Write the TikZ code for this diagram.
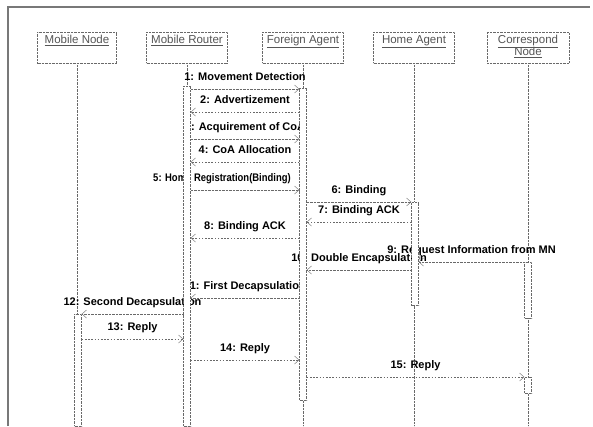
\documentclass[tikz,border=0pt]{standalone}
\usepackage{fontspec}
\setmainfont{Liberation Sans}
\usepackage{xcolor}
\usetikzlibrary{
  arrows.meta,
  positioning,
  backgrounds
}
\definecolor{xline}{RGB}{105,105,105}
\definecolor{xhead}{RGB}{85,85,85}
\definecolor{xframe}{RGB}{120,120,120}

\begin{document}
\begin{tikzpicture}[x=1pt, y=-1pt,
  head/.style={draw=xline, densely dotted, fill=white, anchor=north,
               minimum width=#1, minimum height=31pt, inner sep=0pt},
  headtxt/.style={anchor=north, yshift=-2pt, inner sep=1pt, text=xhead,
                  font=\fontsize{11.5}{13}\selectfont, align=center},
  life/.style={draw=xline, densely dotted},
  bar/.style={draw=xline, densely dotted, fill=white, anchor=north,
              minimum width=7pt, inner sep=0pt},
  call/.style={draw=xline, densely dotted, -{Straight Barb[length=4.5pt, width=8pt]}},
  reply/.style={draw=xline, dash pattern=on 1.6pt off 1.6pt, -{Straight Barb[length=4.5pt, width=8pt]}},
  msg/.style={above, yshift=4.5pt, inner sep=1pt, text height=8.5pt, text depth=2.5pt,
              font=\fontsize{11}{12}\selectfont\bfseries}
]
  \useasboundingbox (0,0) rectangle (593,426);
  \draw[xframe, line width=1.3pt] (8,426) -- (8,7) -- (590,7);

  \node[head=79pt,  label={[headtxt]north:\underline{Mobile Node}}]    (mn) at (77,32)  {};
  \node[head=81pt,  label={[headtxt]north:\underline{Mobile Router}}]  (mr) at (187,32) {};
  \node[head=81pt,  label={[headtxt]north:\underline{Foreign Agent}}]  (fa) at (303,32) {};
  \node[head=81pt,  label={[headtxt]north:\underline{Home Agent}}]     (ha) at (414,32) {};
  \node[head=82pt,  label={[headtxt]north:{\underline{Correspond}\\[-1pt]\underline{Node}}}] (cn) at (528,32) {};

  \coordinate (bottom) at (0,426);

  \node[bar, minimum height=112pt] (mnbar)  at (78,314)  {};
  \node[bar, minimum height=340pt] (mrbar)  at (187,86)  {};
  \node[bar, minimum height=312pt] (fabar)  at (303,88)  {};
  \node[bar, minimum height=103pt] (habar)  at (415,202) {};
  \node[bar, minimum height=56pt]  (cnbarA) at (528,262) {};
  \node[bar, minimum height=16pt]  (cnbarB) at (528,377) {};

  \begin{scope}[on background layer]
    \foreach \n in {mn,mr,fa,ha,cn}{
      \draw[life] (\n.south) -- (\n.south |- bottom);
    }

    \foreach \from/\to/\y/\dx/\lbl in {
      mrbar.east/fabar.west/89/0/{1: Movement Detection},
      mrbar.east/fabar.west/139/0/{3: Acquirement of CoA},
      mrbar.east/fabar.west/190/-23/{\addfontfeatures{FakeStretch=0.86}5: Home Registration(Binding)},
      fabar.east/habar.west/202/0/{6: Binding},
      cnbarA.west/habar.east/262/0/{9: Request Information from MN},
      habar.west/fabar.east/270/0/{10: Double Encapsulation},
      fabar.west/mrbar.east/298/0/{11: First Decapsulation},
      mrbar.west/mnbar.east/314/0/{12: Second Decapsulation}
    }{
      \draw[call] (\from |- 0,\y) -- node[msg, xshift=\dx]{\lbl} (\to |- 0,\y);
    }

    \foreach \from/\to/\y/\lbl in {
      fabar.west/mrbar.east/112/{2: Advertizement},
      fabar.west/mrbar.east/162/{4: CoA Allocation},
      habar.west/fabar.east/222/{7: Binding ACK},
      fabar.west/mrbar.east/238/{8: Binding ACK},
      mnbar.east/mrbar.west/339/{13: Reply},
      mrbar.east/fabar.west/360/{14: Reply},
      fabar.east/cnbarB.west/377/{15: Reply}
    }{
      \draw[reply] (\from |- 0,\y) -- node[msg]{\lbl} (\to |- 0,\y);
    }
  \end{scope}
\end{tikzpicture}
\end{document}
